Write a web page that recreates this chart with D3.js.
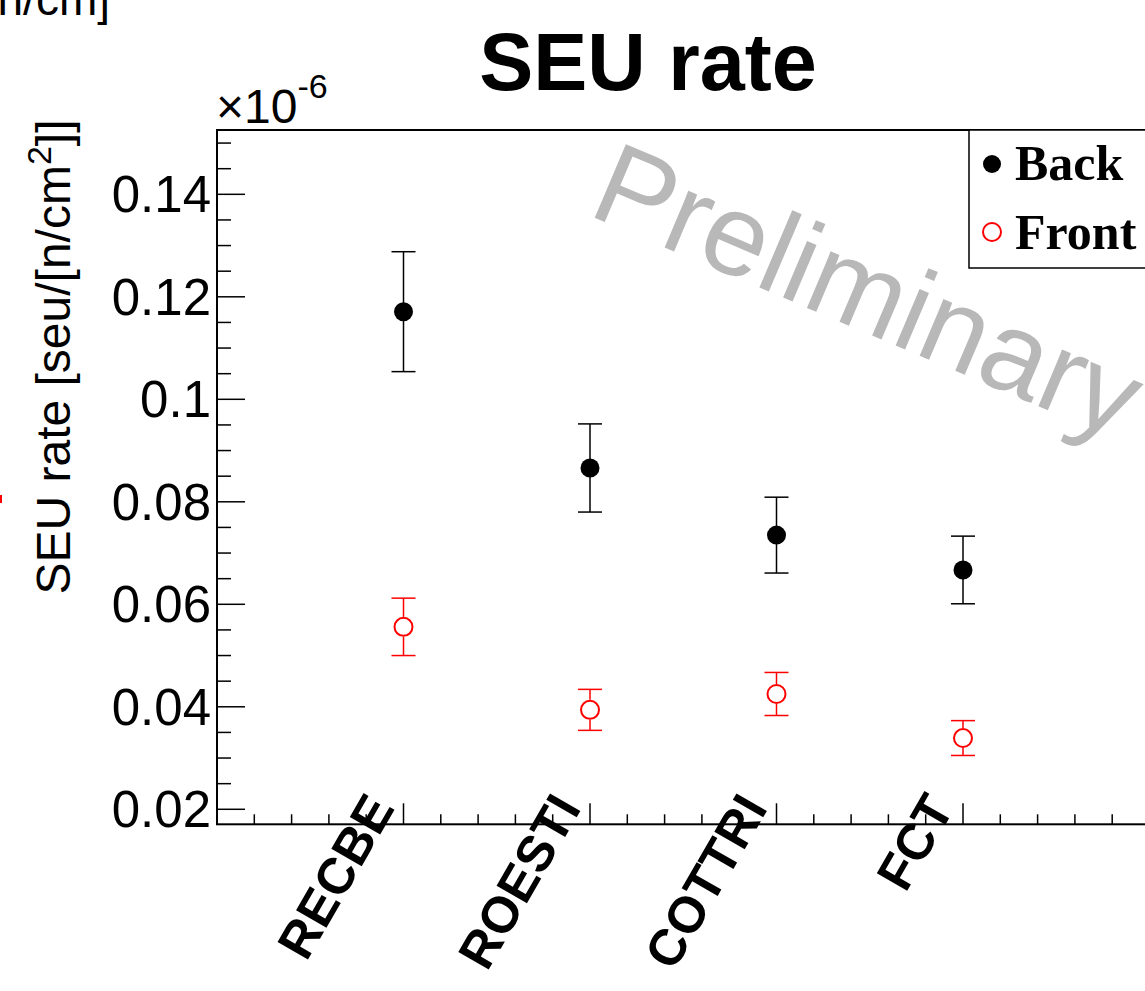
<!DOCTYPE html>
<html>
<head>
<meta charset="utf-8">
<script src="https://cdn.jsdelivr.net/npm/d3@7"></script>
<style>
  body { margin: 0; background: #fff; }
  svg { display: block; }
</style>
</head>
<body>
<div id="chart"></div>
<script>
// values are in units of 1e-6 seu/[n/cm^2]
var categories = ['RECBE', 'ROESTI', 'COTTRI', 'FCT']
var backRate = [0.1171, 0.0866, 0.0735, 0.0667]
var backErr = [0.0117, 0.0086, 0.0074, 0.0066]
var frontRate = [0.0556, 0.0394, 0.0425, 0.0339]
var frontErr = [0.0056, 0.0040, 0.0042, 0.0034]
var yTicks = [0.02, 0.04, 0.06, 0.08, 0.1, 0.12, 0.14]
var seriesNames = ['Back', 'Front']

var W = 1145, H = 991

var svg = d3.select('#chart').append('svg')
    .attr('width', W)
    .attr('height', H)

var sans = '"Liberation Sans", Arial, Helvetica, sans-serif'
var serif = '"Liberation Serif", "Times New Roman", serif'

// x: category i sits at i+1, frame runs 0..5
var xScale = d3.scaleLinear().domain([0, 5]).range([217, 1149.5])
var yScale = d3.scaleLinear().domain([0.01707, 0.15255]).range([824.3, 130])

// leftovers of the neighbouring pad
svg.append('text')
    .attr('x', 110).attr('y', 15)
    .attr('text-anchor', 'end')
    .style('font-family', sans).style('font-size', '46px')
    .text('[n/cm]')
svg.append('rect')
    .attr('x', 0).attr('y', 495).attr('width', 2).attr('height', 8)
    .attr('fill', 'red')

// title
svg.append('text')
    .attr('x', 648).attr('y', 90)
    .attr('text-anchor', 'middle')
    .style('font-family', sans).style('font-size', '81px').style('font-weight', 'bold')
    .text('SEU rate')

// watermark
svg.append('text')
    .attr('transform', 'translate(586,214) rotate(23)')
    .style('font-family', sans).style('font-size', '116px')
    .attr('fill', '#b8b8b8')
    .text('Preliminary')

// frame
svg.append('rect')
    .attr('x', xScale(0)).attr('y', yScale.range()[1])
    .attr('width', xScale(5) - xScale(0))
    .attr('height', yScale.range()[0] - yScale.range()[1])
    .attr('fill', 'none').attr('stroke', '#000').attr('stroke-width', 2)

// y ticks (major + minor every 0.005)
var yMinor = d3.range(0.02, 0.1526, 0.005).filter(function(v) { return v >= yScale.domain()[0] && v <= yScale.domain()[1] })
var gy = svg.append('g')
gy.selectAll('line.minor').data(yMinor).enter().append('line')
    .attr('x1', xScale(0)).attr('x2', function(d, i) { return xScale(0) + (i % 4 === 0 ? 28 : 14) })
    .attr('y1', function(d) { return yScale(d) }).attr('y2', function(d) { return yScale(d) })
    .attr('stroke', '#000').attr('stroke-width', 1.5)
gy.selectAll('text').data(yTicks).enter().append('text')
    .attr('x', 211).attr('y', function(d) { return yScale(d) + 18 })
    .attr('text-anchor', 'end')
    .style('font-family', sans).style('font-size', '51px')
    .text(function(d) { return d3.format('')(+d.toFixed(2)) })

// exponent
var expo = svg.append('text')
    .attr('x', 216).attr('y', 123)
    .style('font-family', sans).style('font-size', '48px')
expo.append('tspan').text('\u00d710')
expo.append('tspan').attr('dy', -25).style('font-size', '34px').text('-6')

// y label
var yl = svg.append('text')
    .attr('transform', 'translate(70,357) rotate(-90)')
    .attr('text-anchor', 'middle')
    .style('font-family', sans).style('font-size', '48px')
yl.append('tspan').text('SEU rate [seu/[n/cm')
yl.append('tspan').attr('dy', -19).style('font-size', '34px').text('2')
yl.append('tspan').attr('dy', 19).text(']]')

// x ticks
var xMinor = d3.range(0.2, 5, 0.2)
svg.append('g').selectAll('line').data(xMinor).enter().append('line')
    .attr('x1', function(d) { return xScale(d) }).attr('x2', function(d) { return xScale(d) })
    .attr('y1', yScale.range()[0])
    .attr('y2', function(d, i) { return yScale.range()[0] - ((i + 1) % 5 === 0 ? 21 : 10) })
    .attr('stroke', '#000').attr('stroke-width', 1.5)

svg.append('g').selectAll('text').data(categories).enter().append('text')
    .attr('transform', function(d, i) { return 'translate(' + (xScale(i + 1) - 8) + ',808) rotate(-60)' })
    .attr('text-anchor', 'end')
    .style('font-family', sans).style('font-size', '51px').style('font-weight', 'bold')
    .text(function(d) { return d })

// data points with error bars
function drawSeries(vals, errs, color, filled) {
  var g = svg.append('g')
  var pts = vals.map(function(v, i) { return { x: i + 1, v: v, e: errs[i] } })
  var r = filled ? 9.5 : 10
  var gap = filled ? 0 : r
  g.selectAll('line.up').data(pts).enter().append('line')
      .attr('x1', function(d) { return xScale(d.x) }).attr('x2', function(d) { return xScale(d.x) })
      .attr('y1', function(d) { return yScale(d.v) - gap }).attr('y2', function(d) { return yScale(d.v + d.e) })
      .attr('stroke', color).attr('stroke-width', 1.5)
  g.selectAll('line.dn').data(pts).enter().append('line')
      .attr('x1', function(d) { return xScale(d.x) }).attr('x2', function(d) { return xScale(d.x) })
      .attr('y1', function(d) { return yScale(d.v) + gap }).attr('y2', function(d) { return yScale(d.v - d.e) })
      .attr('stroke', color).attr('stroke-width', 1.5)
  g.selectAll('line.capu').data(pts).enter().append('line')
      .attr('x1', function(d) { return xScale(d.x) - 12 }).attr('x2', function(d) { return xScale(d.x) + 12 })
      .attr('y1', function(d) { return yScale(d.v + d.e) }).attr('y2', function(d) { return yScale(d.v + d.e) })
      .attr('stroke', color).attr('stroke-width', 1.5)
  g.selectAll('line.capd').data(pts).enter().append('line')
      .attr('x1', function(d) { return xScale(d.x) - 12 }).attr('x2', function(d) { return xScale(d.x) + 12 })
      .attr('y1', function(d) { return yScale(d.v - d.e) }).attr('y2', function(d) { return yScale(d.v - d.e) })
      .attr('stroke', color).attr('stroke-width', 1.5)
  g.selectAll('circle').data(pts).enter().append('circle')
      .attr('cx', function(d) { return xScale(d.x) })
      .attr('cy', function(d) { return yScale(d.v) })
      .attr('r', filled ? r : r - 1)
      .attr('fill', filled ? color : 'none')
      .attr('stroke', color).attr('stroke-width', filled ? 0 : 2)
}
drawSeries(backRate, backErr, '#000', true)
drawSeries(frontRate, frontErr, '#ff0000', false)

// legend
var leg = svg.append('g')
leg.append('rect')
    .attr('x', 969).attr('y', 130).attr('width', 200).attr('height', 138)
    .attr('fill', '#fff').attr('stroke', '#000').attr('stroke-width', 1.5)
leg.append('circle').attr('cx', 992).attr('cy', 164).attr('r', 9).attr('fill', '#000')
leg.append('circle').attr('cx', 992).attr('cy', 232).attr('r', 9)
    .attr('fill', 'none').attr('stroke', '#ff0000').attr('stroke-width', 2)
leg.selectAll('text').data(seriesNames).enter().append('text')
    .attr('x', 1015).attr('y', function(d, i) { return 180 + i * 69 })
    .style('font-family', serif).style('font-size', '50px').style('font-weight', 'bold')
    .text(function(d) { return d })
</script>
</body>
</html>
